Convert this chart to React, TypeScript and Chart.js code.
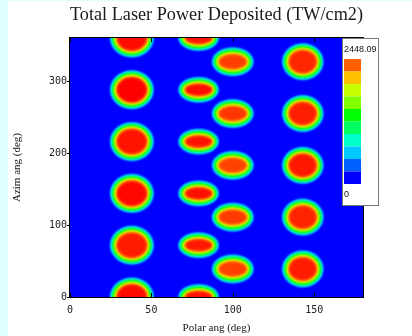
import React, { useEffect, useRef } from 'react';
import { Chart, registerables } from 'chart.js';

Chart.register(...registerables);

// ---- text ----
const TITLE = 'Total Laser Power Deposited (TW/cm2)';
const X_TITLE = 'Polar ang (deg)';
const Y_TITLE = 'Azim ang (deg)';

// ---- axes ----
const X_RANGE = [0, 180];
const Y_RANGE = [0, 360];
const X_TICKS = [0, 50, 100, 150];
const Y_TICKS = [0, 100, 200, 300];

// ---- colour scale ----
const MAX_VALUE = 2448.09;
const MIN_VALUE = 0;
const LEGEND_COLORS = ['#FF6000', '#FFC000', '#C8FF00', '#80FF00', '#00FF00', '#00FF60', '#00FFC8', '#00C8FF', '#0060FF', '#0000FF'];
const COLOR_STOPS: [number, number[]][] = [
  [0, [0, 0, 255]], [0.1, [0, 96, 255]], [0.2, [0, 200, 255]], [0.3, [0, 255, 200]],
  [0.4, [0, 255, 96]], [0.5, [0, 255, 0]], [0.6, [128, 255, 0]], [0.7, [200, 255, 0]],
  [0.8, [255, 192, 0]], [0.9, [255, 96, 0]], [1, [255, 0, 0]],
];

// ---- deposited spots: one column per polar ring ----
const COL_POLAR = [38, 79, 100, 143];
const COL1_AZIM = [0, 72, 144, 216, 288, 360];
const COL2_AZIM = [0, 72, 144, 216, 288, 360];
const COL3_AZIM = [39, 111, 183, 255, 327];
const COL4_AZIM = [39, 111, 183, 255, 327];
const COL1_PEAK = [2420, 2380, 2430, 2400, 2448, 2420];
const COL2_PEAK = [2400, 2390, 2410, 2400, 2420, 2400];
const COL3_PEAK = [2290, 2300, 2280, 2310, 2290];
const COL4_PEAK = [2380, 2360, 2390, 2370, 2350];
// plateau half-widths (deg) of each column's spots
const COL_CORE_POLAR = [8.6, 7.6, 8.0, 7.9];
const COL_CORE_AZIM = [16.0, 6.8, 9.0, 14.6];
// fall-off width at the spot edges (polar deg)
const EDGE_POLAR = 5.2;

const COL_AZIM = [COL1_AZIM, COL2_AZIM, COL3_AZIM, COL4_AZIM];
const COL_PEAK = [COL1_PEAK, COL2_PEAK, COL3_PEAK, COL4_PEAK];

function colourAt(t: number): string {
  const v = Math.max(0, Math.min(1, t));
  for (let i = 1; i < COLOR_STOPS.length; i++) {
    const [t1, c1] = COLOR_STOPS[i];
    const [t0, c0] = COLOR_STOPS[i - 1];
    if (v <= t1) {
      const f = (v - t0) / (t1 - t0);
      const c = c0.map((a, k) => Math.round(a + (c1[k] - a) * f));
      return `rgb(${c[0]},${c[1]},${c[2]})`;
    }
  }
  return 'rgb(255,0,0)';
}

const spots = COL_POLAR.flatMap((p, ci) =>
  COL_AZIM[ci].map((az, i) => ({ x: p, y: az, a: COL_CORE_POLAR[ci], b: COL_CORE_AZIM[ci], v: COL_PEAK[ci][i] }))
);

const heatPlugin = {
  id: 'heatSpots',
  beforeDatasetsDraw(chart: any) {
    const { ctx, chartArea: ca, scales } = chart;
    const x = scales.x, y = scales.y;
    ctx.save();
    ctx.beginPath();
    ctx.rect(ca.left, ca.top, ca.right - ca.left, ca.bottom - ca.top);
    ctx.clip();
    ctx.fillStyle = colourAt(0);
    ctx.fillRect(ca.left, ca.top, ca.right - ca.left, ca.bottom - ca.top);
    ctx.filter = 'blur(1.2px)';
    const N = 20;
    chart.data.datasets[0].data.forEach((p: any) => {
      const cx = x.getPixelForValue(p.x);
      const cy = y.getPixelForValue(p.y);
      const ax = Math.abs(x.getPixelForValue(p.x + p.a) - cx);
      const by = Math.abs(y.getPixelForValue(p.y + p.b) - cy);
      const e = Math.abs(x.getPixelForValue(p.x + EDGE_POLAR) - cx);
      const peakT = (p.v - MIN_VALUE) / (MAX_VALUE - MIN_VALUE);
      for (let k = 1; k <= N; k++) {
        const t = k / N;
        const d = e * (1 - t);
        ctx.fillStyle = colourAt(t * peakT);
        ctx.beginPath();
        ctx.ellipse(cx, cy, ax + d, by + d, 0, 0, Math.PI * 2);
        ctx.fill();
      }
    });
    ctx.restore();
  },
  afterDatasetsDraw(chart: any) {
    const { ctx, chartArea: ca, scales } = chart;
    ctx.save();
    ctx.strokeStyle = '#000';
    ctx.lineWidth = 1;
    // frame
    ctx.strokeRect(Math.round(ca.left) - 0.5, Math.round(ca.top) - 0.5, Math.round(ca.right - ca.left) + 1, Math.round(ca.bottom - ca.top) + 1);
    // inward polar ticks, bottom and top
    ctx.beginPath();
    X_TICKS.forEach((v) => {
      const px = Math.round(scales.x.getPixelForValue(v)) + 0.5;
      ctx.moveTo(px, ca.bottom);
      ctx.lineTo(px, ca.bottom - 4);
      ctx.moveTo(px, ca.top);
      ctx.lineTo(px, ca.top + 4);
    });
    ctx.stroke();
    ctx.restore();
  },
  afterDraw(chart: any) {
    const { ctx, chartArea: ca } = chart;
    const left = Math.round(ca.right) - 21;
    const top = Math.round(ca.top);
    const w = 36, h = 167;
    ctx.save();
    ctx.fillStyle = '#fff';
    ctx.fillRect(left, top, w, h);
    ctx.strokeStyle = '#7a7a7a';
    ctx.lineWidth = 1;
    ctx.strokeRect(left + 0.5, top + 0.5, w, h);
    const barTop = top + 21;
    const barH = 12.5;
    LEGEND_COLORS.forEach((c, i) => {
      ctx.fillStyle = c;
      ctx.fillRect(left + 2, barTop + i * barH, 17, barH);
    });
    ctx.fillStyle = '#111';
    ctx.font = '9px "Liberation Sans", Arial, sans-serif';
    ctx.textBaseline = 'middle';
    ctx.textAlign = 'left';
    ctx.fillText(MAX_VALUE.toFixed(2), left + 2, top + 11.5);
    ctx.fillText(String(MIN_VALUE), left + 2, top + 157);
    ctx.restore();
  },
};

export default function App() {
  const ref = useRef<HTMLCanvasElement>(null);
  useEffect(() => {
    if (!ref.current) return;
    const tickFont = { family: '"DejaVu Sans Mono", monospace', size: 10 };
    const titleFont = { family: '"Liberation Serif", "Times New Roman", serif', size: 11 };
    const chart = new Chart(ref.current, {
      type: 'scatter',
      data: {
        datasets: [{ data: spots as any, pointRadius: 0, pointHoverRadius: 0 }],
      },
      options: {
        responsive: false,
        animation: false,
        events: [],
        layout: { padding: { left: 0, right: 49, top: 0, bottom: 0 } },
        plugins: {
          legend: { display: false },
          tooltip: { enabled: false },
          title: {
            display: true,
            text: TITLE,
            fullSize: false,
            color: '#1a1a1a',
            font: { family: '"Liberation Serif", "Times New Roman", serif', size: 19, weight: 'normal' },
            padding: { top: 2.6, bottom: 11.6 },
          },
        },
        scales: {
          x: {
            type: 'linear',
            min: X_RANGE[0],
            max: X_RANGE[1],
            afterBuildTicks: (s: any) => { s.ticks = X_TICKS.map((v) => ({ value: v })); },
            afterFit: (s: any) => { s.height = 39; },
            grid: { display: true, drawOnChartArea: false, drawTicks: false, color: '#000' },
            border: { display: false },
            ticks: { font: tickFont, color: '#222', padding: 7, maxRotation: 0, autoSkip: false },
            title: { display: true, text: X_TITLE, font: titleFont, color: '#111', padding: { top: 0, bottom: 1 } },
          },
          y: {
            type: 'linear',
            min: Y_RANGE[0],
            max: Y_RANGE[1],
            afterBuildTicks: (s: any) => { s.ticks = Y_TICKS.map((v) => ({ value: v })); },
            afterFit: (s: any) => { s.width = 62; },
            grid: { display: true, drawOnChartArea: false, drawTicks: true, tickLength: 3, color: '#000' },
            border: { display: false },
            ticks: { font: tickFont, color: '#222', padding: 0, autoSkip: false },
            title: { display: true, text: Y_TITLE, font: titleFont, color: '#111', padding: { top: 3, bottom: 0 } },
          },
        },
      },
      plugins: [heatPlugin],
    } as any);
    return () => chart.destroy();
  }, []);

  return (
    <div style={{ position: 'fixed', left: 0, top: 0, width: 412, height: 336, background: '#E0FFFF' }}>
      <div style={{ position: 'absolute', left: 8, top: 1, width: 404, height: 335, background: '#fff' }}>
        <canvas ref={ref} width={404} height={335} style={{ display: 'block', width: 404, height: 335 }} />
      </div>
    </div>
  );
}
